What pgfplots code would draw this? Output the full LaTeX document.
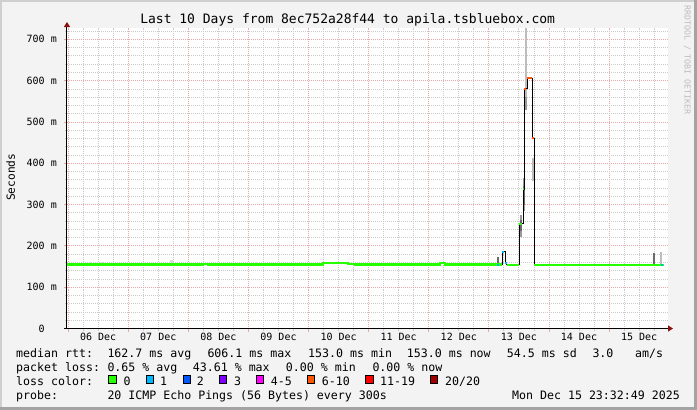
\documentclass[border=0pt]{standalone}
\usepackage{fontspec}
\setmainfont{DejaVu Sans Mono}
\usepackage{pgfplots}
\usepackage{pgfplotstable}
\pgfplotsset{compat=1.18}
\usetikzlibrary{arrows.meta}

\definecolor{canvas}{HTML}{F3F3F3}
\definecolor{edgelight}{HTML}{CFCFCF}
\definecolor{edgedark}{HTML}{A3A3A3}
\definecolor{mgridc}{HTML}{E9A9A9}
\definecolor{gridc}{HTML}{CBCBCB}
\definecolor{arrowc}{HTML}{8B1010}
\definecolor{smokefaint}{HTML}{DADADA}
\definecolor{smokelight}{HTML}{BDBDBD}
\definecolor{smokemid}{HTML}{9A9A9A}
\definecolor{smokedark}{HTML}{6A6A6A}
\definecolor{lossA}{HTML}{26FF00}
\definecolor{lossB}{HTML}{00B8FF}
\definecolor{lossC}{HTML}{0059FF}
\definecolor{lossD}{HTML}{7E00FF}
\definecolor{lossE}{HTML}{FF00FF}
\definecolor{lossF}{HTML}{FF5500}
\definecolor{lossG}{HTML}{FF0000}
\definecolor{lossH}{HTML}{A10000}

\newcommand{\tickfont}{\fontsize{10}{12}\selectfont}
\newcommand{\legfont}{\fontsize{11.6}{14}\selectfont}

% median rtt (ms), x in days from 06 Dec 00:00
\pgfplotstableread{
x y
-0.019 155
2.239 157
2.322 155
4.241 159
4.657 156.5
4.773 155
6.187 159
6.270 155
7.224 186
7.269 159
7.302 154
7.502 253
7.573 337
7.590 580
7.640 606
7.723 461
7.756 154
9.915 154
}\median

% loss 0 parts of the median
\pgfplotstableread{
x y
-0.019 155
2.239 157
2.322 155
4.241 159
4.657 156.5
4.773 155
6.187 159
6.270 155
7.224 155
7.224 nan
7.302 154
7.502 154
7.502 nan
7.756 154
9.915 154
}\greenpart

\begin{document}
\begin{tikzpicture}
\begin{scope}[shift={(-67pt,328.5pt)}, x=1pt, y=-1pt]
  \fill[canvas] (0,0) rectangle (697,410);
  \fill[edgelight] (0,0) rectangle (697,2);
  \fill[edgelight] (0,0) rectangle (2,410);
  \fill[edgedark] (694,0) rectangle (697,410);
  \fill[edgedark] (0,407) rectangle (697,410);
\end{scope}

\begin{axis}[
  at={(0pt,0pt)}, anchor=south west,
  scale only axis, width=601pt, height=300.5pt,
  xmin=-0.019, xmax=9.981, ymin=0, ymax=727.5,
  axis background/.style={fill=white},
  axis lines=left,
  x axis line style={line width=1.2pt, black, shorten <=-3pt, shorten >=-5pt,
    -{Triangle[length=5pt,width=6pt,color=arrowc]}},
  y axis line style={line width=1pt, black, shorten >=-6pt,
    -{Triangle[length=5pt,width=6pt,color=arrowc]}},
  xtick={0,1,2,3,4,5,6,7,8,9}, xticklabels={},
  minor xtick={0.25,0.5,0.75,1.25,1.5,1.75,2.25,2.5,2.75,3.25,3.5,3.75,
    4.25,4.5,4.75,5.25,5.5,5.75,6.25,6.5,6.75,7.25,7.5,7.75,8.25,8.5,8.75,
    9.25,9.5,9.75},
  extra x ticks={0.5,1.5,2.5,3.5,4.5,5.5,6.5,7.5,8.5,9.5},
  extra x tick labels={06 Dec,07 Dec,08 Dec,09 Dec,10 Dec,11 Dec,12 Dec,13 Dec,14 Dec,15 Dec},
  extra x tick style={grid=none, major tick length=0pt},
  ytick={0,100,200,300,400,500,600,700},
  yticklabels={0\phantom{\ m},100 m,200 m,300 m,400 m,500 m,600 m,700 m},
  minor ytick={20,40,60,80,120,140,160,180,220,240,260,280,320,340,360,380,
    420,440,460,480,520,540,560,580,620,640,660,680,720},
  grid=both,
  major grid style={mgridc, line width=0.8pt, dash pattern=on 1pt off 1pt},
  minor grid style={gridc, line width=0.8pt, dash pattern=on 1pt off 1pt},
  tick align=outside,
  major tick length=3pt, minor tick length=2pt,
  major tick style={mgridc, line width=0.8pt},
  minor tick style={gridc, line width=0.8pt},
  tick label style={font=\tickfont, text=black},
  xticklabel style={anchor=base, inner sep=0pt, yshift=-12.2pt},
  yticklabel style={anchor=east, inner sep=0pt, xshift=-7pt},
  unbounded coords=jump,
]
% smoke
\addplot[smokefaint, line width=3pt] coordinates {
  (0.364,155) (0.364,160) (0.4,nan)
  (0.558,155) (0.558,160) (0.6,nan)
  (1.723,155) (1.723,166) (1.8,nan)
  (3.137,155) (3.137,161) (3.2,nan)
  (5.970,155) (5.970,159)
};
\addplot[smokelight, line width=2pt] coordinates {
  (7.618,561) (7.618,735) (7.65,nan)
  (7.735,358) (7.735,412) (7.8,nan)
  (9.865,154) (9.865,184)
};
\addplot[smokemid, line width=2pt] coordinates {
  (7.543,221) (7.543,275) (7.55,nan)
  (7.578,285) (7.578,365) (7.6,nan)
  (7.618,529) (7.618,561)
};
\addplot[smokedark, line width=2pt] coordinates {
  (7.158,154) (7.158,172) (7.2,nan)
  (7.543,235) (7.543,262) (7.55,nan)
  (7.578,300) (7.578,345) (7.6,nan)
  (9.743,154) (9.743,182)
};
% median line
\addplot[black, line width=1pt, const plot mark left] table {\median};
\addplot[lossA, line width=2.2pt, const plot mark left] table {\greenpart};
% loss colour marks on the median
\addplot[lossB, line width=2pt] coordinates {
  (7.130,154) (7.165,154) (7.17,nan)
  (7.224,186) (7.250,186) (7.26,nan)
  (7.269,159) (7.300,159) (7.31,nan)
  (9.865,154) (9.900,154)
};
\addplot[lossA, line width=2pt] coordinates {
  (7.502,253) (7.545,253) (7.55,nan)
  (7.573,337) (7.590,337)
};
\addplot[lossF, line width=2pt] coordinates {
  (7.590,580) (7.625,580) (7.63,nan)
  (7.640,606) (7.723,606) (7.73,nan)
  (7.723,461) (7.748,461)
};
\end{axis}

\begin{scope}[shift={(-67pt,328.5pt)}, x=1pt, y=-1pt]
  \node[anchor=base, inner sep=0pt, font=\fontsize{13}{15}\selectfont] at (347.7,24)
    {Last 10 Days from 8ec752a28f44 to apila.tsbluebox.com};
  \node[rotate=90, anchor=base, inner sep=0pt, font=\fontsize{11.2}{13}\selectfont] at (15,177.3) {Seconds};
  \node[rotate=-90, anchor=base, inner sep=0pt, text=smokelight, font=\fontsize{8.3}{10}\selectfont] at (684.5,60)
    {RRDTOOL / TOBI OETIKER};

  \begin{scope}[every node/.style={anchor=base west, inner sep=0pt, font=\legfont}]
    \node at (16,357.7) {median rtt:};
    \node at (107.3,357.7) {162.7 ms avg};
    \node at (207.3,357.7) {606.1 ms max};
    \node at (308,357.7) {153.0 ms min};
    \node at (406.7,357.7) {153.0 ms now};
    \node at (506.7,357.7) {54.5 ms sd};
    \node at (592.3,357.7) {3.0};
    \node at (635,357.7) {am/s};

    \node at (16,371.7) {packet loss:};
    \node at (107.3,371.7) {0.65 \% avg};
    \node at (192.7,371.7) {43.61 \% max};
    \node at (285.7,371.7) {0.00 \% min};
    \node at (372.3,371.7) {0.00 \% now};

    \node at (16,385) {loss color:};
    \node at (123.3,385) {0};
    \node at (160,385) {1};
    \node at (196.7,385) {2};
    \node at (234,385) {3};
    \node at (270.7,385) {4-5};
    \node at (321.7,385) {6-10};
    \node at (380,385) {11-19};
    \node at (445,385) {20/20};

    \node at (16,399.3) {probe:};
    \node at (107.3,399.3) {20 ICMP Echo Pings (56 Bytes) every 300s};
    \node[anchor=base east] at (680,399.3) {Mon Dec 15 23:32:49 2025};
  \end{scope}
  \begin{scope}[line width=0.6pt]
    \draw[fill=lossA] (108.7,375.7) rectangle ++(7.3,7.3);
    \draw[fill=lossB] (146,375.7) rectangle ++(7.3,7.3);
    \draw[fill=lossC] (183.3,375.7) rectangle ++(7.3,7.3);
    \draw[fill=lossD] (219.3,375.7) rectangle ++(7.3,7.3);
    \draw[fill=lossE] (256,375.7) rectangle ++(7.3,7.3);
    \draw[fill=lossF] (307.3,375.7) rectangle ++(7.3,7.3);
    \draw[fill=lossG] (365.7,375.7) rectangle ++(7.3,7.3);
    \draw[fill=lossH] (430,375.7) rectangle ++(7.3,7.3);
  \end{scope}
\end{scope}
\end{tikzpicture}
\end{document}
